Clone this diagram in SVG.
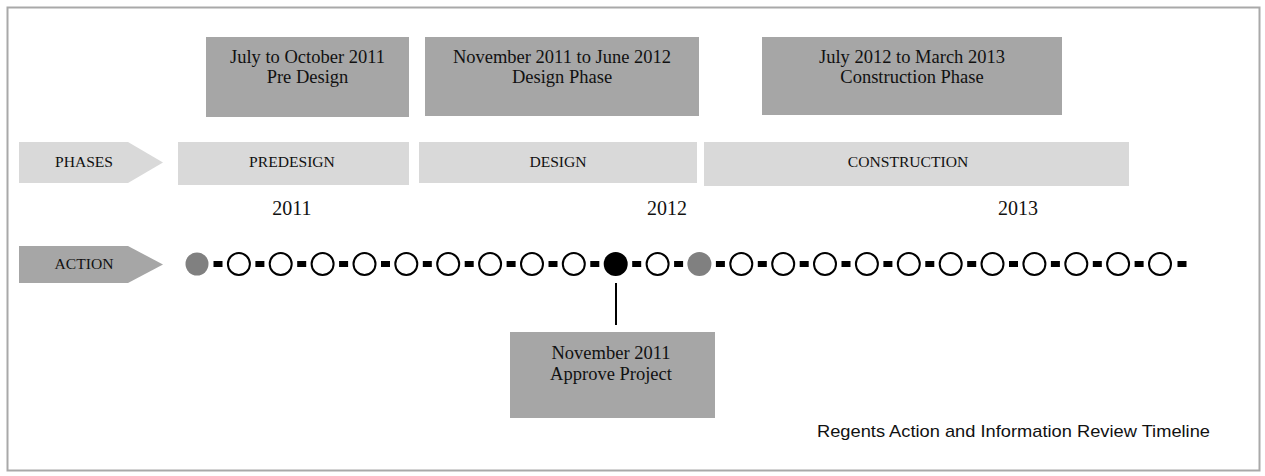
<svg xmlns="http://www.w3.org/2000/svg" width="1265" height="476" viewBox="0 0 1265 476">
<style>
.frame{fill:#fff;stroke:#a9a9a9;stroke-width:2}
.dark{fill:#a6a6a6}
.light{fill:#d9d9d9}
.t{font-family:"Liberation Serif","Times New Roman",serif;fill:#111;text-anchor:middle}
.big{font-size:18.5px}
.cap{font-size:15.6px}
.yr{font-size:20px}
.open{fill:#fff;stroke:#000;stroke-width:2}
.cap2{font-family:"Liberation Sans",Arial,sans-serif;font-size:17px;fill:#111}
</style>
<defs>
<rect id="dash" x="-4.5" y="-3" width="9" height="6" fill="#000"/>
</defs>
<rect class="frame" x="7.5" y="7.5" width="1252" height="463"/>

<g id="box-predesign">
<rect class="dark" x="206" y="37" width="203" height="80"/>
<text class="t big" x="307.5" y="63">July to October 2011</text>
<text class="t big" x="307.5" y="83">Pre Design</text>
</g>
<g id="box-design">
<rect class="dark" x="425" y="37" width="274" height="79"/>
<text class="t big" x="562" y="63">November 2011 to June 2012</text>
<text class="t big" x="562" y="83">Design Phase</text>
</g>
<g id="box-construction">
<rect class="dark" x="762" y="37" width="300" height="78"/>
<text class="t big" x="912" y="63">July 2012 to March 2013</text>
<text class="t big" x="912" y="83">Construction Phase</text>
</g>

<g id="phases-arrow">
<polygon class="light" points="19,142 128,142 163,162.5 128,183 19,183"/>
<text class="t cap" x="84" y="167">PHASES</text>
</g>
<g id="bar-predesign">
<rect class="light" x="178" y="142" width="231" height="43"/>
<text class="t cap" x="292" y="167">PREDESIGN</text>
</g>
<g id="bar-design">
<rect class="light" x="419" y="142" width="278" height="41"/>
<text class="t cap" x="558" y="167">DESIGN</text>
</g>
<g id="bar-construction">
<rect class="light" x="704" y="142" width="425" height="44"/>
<text class="t cap" x="908" y="167">CONSTRUCTION</text>
</g>

<g id="years">
<text class="t yr" x="292" y="215">2011</text>
<text class="t yr" x="667" y="215">2012</text>
<text class="t yr" x="1018" y="215">2013</text>
</g>

<g id="action-arrow">
<polygon class="dark" points="19,246 128,246 163,264.5 128,283 19,283"/>
<text class="t cap" x="84" y="269">ACTION</text>
</g>

<g id="connectors">
<line x1="616" y1="283" x2="616" y2="325" stroke="#000" stroke-width="2"/>
<g id="dashes">
<use href="#dash" x="218" y="264"/>
<use href="#dash" x="259.9" y="264"/>
<use href="#dash" x="301.7" y="264"/>
<use href="#dash" x="343.6" y="264"/>
<use href="#dash" x="385.5" y="264"/>
<use href="#dash" x="427.3" y="264"/>
<use href="#dash" x="469.2" y="264"/>
<use href="#dash" x="511.1" y="264"/>
<use href="#dash" x="553" y="264"/>
<use href="#dash" x="594.8" y="264"/>
<use href="#dash" x="636.7" y="264"/>
<use href="#dash" x="678.6" y="264"/>
<use href="#dash" x="720.4" y="264"/>
<use href="#dash" x="762.3" y="264"/>
<use href="#dash" x="804.2" y="264"/>
<use href="#dash" x="846" y="264"/>
<use href="#dash" x="887.9" y="264"/>
<use href="#dash" x="929.8" y="264"/>
<use href="#dash" x="971.7" y="264"/>
<use href="#dash" x="1013.5" y="264"/>
<use href="#dash" x="1055.4" y="264"/>
<use href="#dash" x="1097.3" y="264"/>
<use href="#dash" x="1139.1" y="264"/>
<use href="#dash" x="1182" y="264"/>
</g>
</g>

<g id="timeline-points">
<circle cx="197" cy="264" r="11.5" fill="#808080"/>
<circle class="open" cx="238.9" cy="264" r="11"/>
<circle class="open" cx="280.7" cy="264" r="11"/>
<circle class="open" cx="322.6" cy="264" r="11"/>
<circle class="open" cx="364.5" cy="264" r="11"/>
<circle class="open" cx="406.3" cy="264" r="11"/>
<circle class="open" cx="448.2" cy="264" r="11"/>
<circle class="open" cx="490.1" cy="264" r="11"/>
<circle class="open" cx="532" cy="264" r="11"/>
<circle class="open" cx="573.8" cy="264" r="11"/>
<circle cx="615.7" cy="264" r="12" fill="#000"/>
<circle class="open" cx="657.6" cy="264" r="11"/>
<circle cx="699.4" cy="264" r="12" fill="#808080"/>
<circle class="open" cx="741.3" cy="264" r="11"/>
<circle class="open" cx="783.2" cy="264" r="11"/>
<circle class="open" cx="825" cy="264" r="11"/>
<circle class="open" cx="866.9" cy="264" r="11"/>
<circle class="open" cx="908.8" cy="264" r="11"/>
<circle class="open" cx="950.7" cy="264" r="11"/>
<circle class="open" cx="992.5" cy="264" r="11"/>
<circle class="open" cx="1034.4" cy="264" r="11"/>
<circle class="open" cx="1076.3" cy="264" r="11"/>
<circle class="open" cx="1118.1" cy="264" r="11"/>
<circle class="open" cx="1160" cy="264" r="11"/>
</g>

<g id="box-approve">
<rect class="dark" x="510" y="332" width="205" height="86"/>
<text class="t big" x="611" y="359">November 2011</text>
<text class="t big" x="611" y="380">Approve Project</text>
</g>

<g id="caption">
<text class="cap2" x="817" y="437" textLength="393" lengthAdjust="spacingAndGlyphs">Regents Action and Information Review Timeline</text>
</g>
</svg>
